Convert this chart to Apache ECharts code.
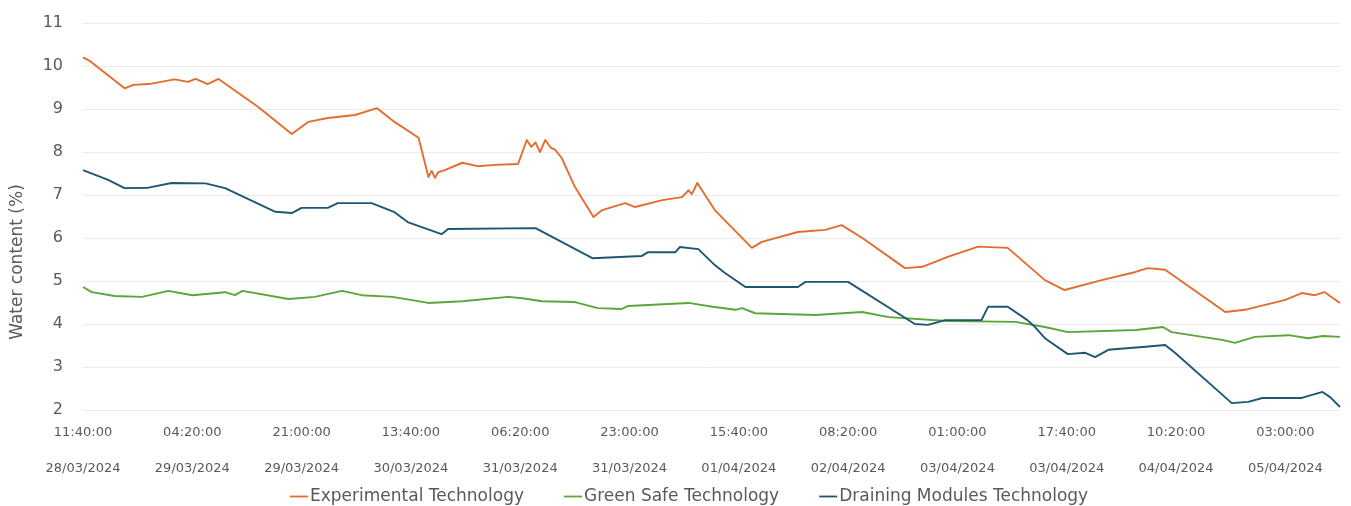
<!DOCTYPE html>
<html>
<head>
<meta charset="utf-8">
<title>Water content</title>
<script src="https://cdn.jsdelivr.net/npm/echarts@6/dist/echarts.min.js"></script>
<style>
  html, body { margin: 0; padding: 0; background: #ffffff; }
  #chart { width: 1351px; height: 506px; }
</style>
</head>
<body>
<div id="chart"></div>
<script>
// X positions are sample indices (one sample every 10 minutes, 11:40 on 28/03/2024 = 0).
// A label is printed every 100 samples (16 h 40 min).
const tickTimes = ['11:40:00', '04:20:00', '21:00:00', '13:40:00', '06:20:00', '23:00:00',
                   '15:40:00', '08:20:00', '01:00:00', '17:40:00', '10:20:00', '03:00:00'];
const tickDates = ['28/03/2024', '29/03/2024', '29/03/2024', '30/03/2024', '31/03/2024', '31/03/2024',
                   '01/04/2024', '02/04/2024', '03/04/2024', '03/04/2024', '04/04/2024', '05/04/2024'];

const seriesNames = ['Experimental Technology', 'Green Safe Technology', 'Draining Modules Technology'];

// [sample index, water content %]
const experimental = [
  [0, 10.20], [6, 10.12], [38, 9.48], [46, 9.56], [60, 9.58], [84, 9.69], [96, 9.63], [103, 9.70],
  [114, 9.58], [124, 9.70], [160, 9.05], [191, 8.42], [206, 8.70], [224, 8.79], [249, 8.86],
  [269, 9.02], [285, 8.70], [307, 8.33], [316, 7.42], [319, 7.56], [322, 7.40], [325, 7.53],
  [331, 7.58], [347, 7.75], [361, 7.67], [377, 7.70], [398, 7.72], [406, 8.28], [410, 8.12],
  [414, 8.22], [418, 8.00], [423, 8.28], [428, 8.10], [432, 8.05], [438, 7.86], [450, 7.19],
  [467, 6.49], [475, 6.65], [496, 6.81], [505, 6.72], [530, 6.88], [548, 6.95], [554, 7.11],
  [557, 7.02], [562, 7.28], [578, 6.65], [612, 5.77], [621, 5.91], [654, 6.14], [679, 6.19],
  [694, 6.30], [713, 6.00], [752, 5.30], [768, 5.33], [791, 5.56], [819, 5.80], [846, 5.77],
  [880, 5.02], [898, 4.79], [932, 5.02], [963, 5.21], [974, 5.30], [990, 5.26], [1045, 4.28],
  [1063, 4.33], [1100, 4.56], [1115, 4.72], [1127, 4.67], [1136, 4.74], [1150, 4.49]
];

const greenSafe = [
  [0, 4.86], [8, 4.74], [29, 4.65], [54, 4.63], [78, 4.77], [100, 4.67], [130, 4.74], [139, 4.67],
  [146, 4.77], [188, 4.58], [212, 4.63], [237, 4.77], [255, 4.67], [283, 4.63], [316, 4.49],
  [347, 4.53], [389, 4.63], [402, 4.60], [420, 4.53], [450, 4.51], [471, 4.37], [493, 4.35],
  [499, 4.42], [554, 4.49], [576, 4.40], [597, 4.33], [603, 4.37], [615, 4.25], [670, 4.21],
  [713, 4.28], [737, 4.16], [791, 4.07], [853, 4.05], [880, 3.93], [901, 3.81], [963, 3.86],
  [988, 3.93], [996, 3.81], [1042, 3.63], [1054, 3.56], [1072, 3.70], [1103, 3.74],
  [1121, 3.67], [1134, 3.72], [1150, 3.70]
];

const draining = [
  [0, 7.58], [23, 7.35], [38, 7.16], [60, 7.17], [81, 7.28], [112, 7.27], [130, 7.16],
  [176, 6.61], [191, 6.58], [200, 6.70], [224, 6.70], [233, 6.81], [264, 6.81], [285, 6.60],
  [297, 6.37], [328, 6.09], [334, 6.21], [414, 6.23], [466, 5.53], [511, 5.58], [517, 5.67],
  [542, 5.67], [546, 5.79], [563, 5.74], [578, 5.37], [587, 5.19], [606, 4.86], [654, 4.86],
  [661, 4.98], [700, 4.98], [761, 4.00], [773, 3.98], [789, 4.09], [822, 4.09], [828, 4.40],
  [846, 4.40], [864, 4.09], [871, 3.93], [880, 3.67], [901, 3.30], [917, 3.33], [926, 3.23],
  [938, 3.40], [972, 3.47], [990, 3.51], [999, 3.33], [1051, 2.16], [1066, 2.19], [1079, 2.28],
  [1115, 2.28], [1134, 2.42], [1141, 2.30], [1150, 2.07]
];

const yTicks = { min: 2, max: 11, step: 1 };
const xRange = { min: 0, max: 1150, step: 100 };

const colors = ['#E46C2E', '#5BA63A', '#1E5675'];
const FONT = '"DejaVu Sans", sans-serif';
const TEXT_COLOR = '#595959';

const chart = echarts.init(document.getElementById('chart'), null, { renderer: 'canvas' });

function makeSeries(name, data, color) {
  return {
    name: name,
    type: 'line',
    data: data,
    showSymbol: false,
    symbol: 'none',
    smooth: false,
    lineStyle: { color: color, width: 1.9, join: 'round' },
    itemStyle: { color: color },
    emphasis: { disabled: true },
    z: 3
  };
}

chart.setOption({
  animation: false,
  backgroundColor: '#ffffff',
  color: colors,
  grid: { left: 83, right: 11, top: 23, bottom: 96, containLabel: false },
  legend: {
    data: seriesNames,
    left: 285,
    top: 483,
    icon: 'rect',
    itemWidth: 18,
    itemHeight: 1.8,
    itemGap: 40,
    textStyle: { fontFamily: FONT, fontSize: 17, color: TEXT_COLOR, padding: [0, 0, 0, -3] }
  },
  xAxis: {
    type: 'value',
    min: xRange.min,
    max: xRange.max,
    interval: xRange.step,
    axisLine: { show: false },
    axisTick: { show: false },
    splitLine: { show: false },
    axisLabel: {
      showMaxLabel: false,
      margin: 6,
      formatter: function (v) {
        const i = Math.round(v / xRange.step);
        if (v % xRange.step !== 0 || i >= tickTimes.length) return '';
        return '{t|' + tickTimes[i] + '}\n{d|' + tickDates[i] + '}';
      },
      rich: {
        t: { fontFamily: FONT, fontSize: 13, color: TEXT_COLOR, lineHeight: 34 },
        d: { fontFamily: FONT, fontSize: 13, color: TEXT_COLOR, lineHeight: 38 }
      }
    }
  },
  yAxis: {
    type: 'value',
    min: yTicks.min,
    max: yTicks.max,
    interval: yTicks.step,
    axisLine: { show: false },
    axisTick: { show: false },
    splitLine: { show: true, lineStyle: { color: '#EBEBEB', width: 1 } },
    axisLabel: { fontFamily: FONT, fontSize: 16, color: TEXT_COLOR, margin: 20 }
  },
  graphic: [{
    type: 'text',
    x: 18,
    y: 262,
    rotation: Math.PI / 2,
    style: {
      text: 'Water content (%)',
      fontFamily: FONT,
      fontSize: 17,
      fill: TEXT_COLOR,
      textAlign: 'center',
      textVerticalAlign: 'middle'
    }
  }],
  series: [
    makeSeries(seriesNames[0], experimental, colors[0]),
    makeSeries(seriesNames[1], greenSafe, colors[1]),
    makeSeries(seriesNames[2], draining, colors[2])
  ]
});
</script>
</body>
</html>
